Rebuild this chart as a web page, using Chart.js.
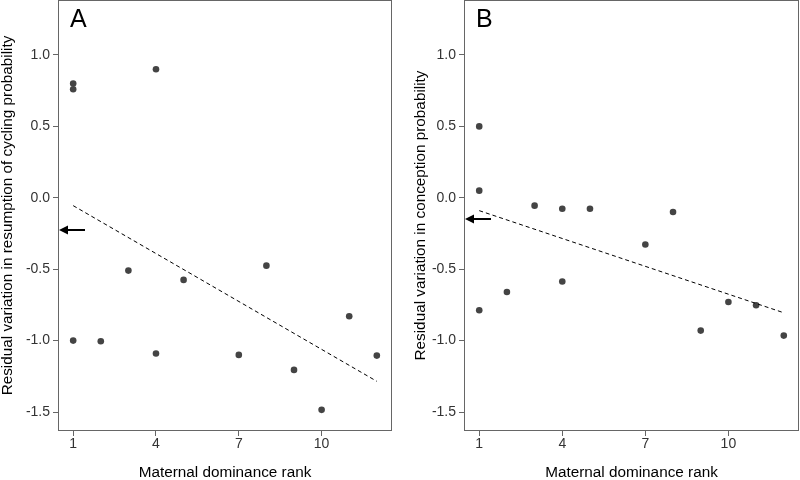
<!DOCTYPE html>
<html>
<head>
<meta charset="utf-8">
<script src="https://cdn.jsdelivr.net/npm/chart.js@4.4.1/dist/chart.umd.min.js"></script>
<style>
  body { margin: 0; background: #fff; }
  .panel { position: absolute; top: 0; }
</style>
</head>
<body>
<canvas id="chartA" class="panel" style="left:0" width="400" height="480"></canvas>
<canvas id="chartB" class="panel" style="left:400px" width="400" height="480"></canvas>
<script>
// ── Data ───────────────────────────────────────────
const rankTicks  = [1, 4, 7, 10];
const residTicks = [-1.5, -1.0, -0.5, 0.0, 0.5, 1.0];

// Panel A: resumption of cycling
const rankA  = [1, 1, 4, 3, 5, 8, 1, 2, 4, 7, 9, 10, 11, 12];
const residA = [0.80, 0.76, 0.90, -0.51, -0.575, -0.475, -1.00, -1.005, -1.09, -1.10, -1.205, -1.485, -0.83, -1.105];
const fitRankA = [1, 12];
const fitA     = [-0.055, -1.285];
const arrowA   = -0.225;

// Panel B: conception
const rankB  = [1, 1, 3, 4, 5, 8, 7, 1, 2, 4, 9, 10, 11, 12];
const residB = [0.50, 0.05, -0.055, -0.077, -0.077, -0.10, -0.327, -0.787, -0.66, -0.586, -0.93, -0.73, -0.752, -0.965];
const fitRankB = [1, 12];
const fitB     = [-0.09, -0.805];
const arrowB   = -0.146;

const FONT = '"Liberation Sans", Arial, sans-serif';
const AXIS_GREY = '#666';

// box, panel letter and the arrow on the y axis
const panelDecor = {
  id: 'panelDecor',
  afterDatasetsDraw(chart, args, opts) {
    const { ctx, chartArea: a, scales: { y } } = chart;
    ctx.save();
    ctx.strokeStyle = AXIS_GREY;
    ctx.lineWidth = 1;
    ctx.strokeRect(a.left + 0.5, a.top + 0.5, a.right - a.left - 1, a.bottom - a.top - 1);

    ctx.fillStyle = '#000';
    ctx.font = '25px ' + FONT;
    ctx.textBaseline = 'alphabetic';
    ctx.fillText(opts.letter, a.left + 12, a.top + 27);

    const ay = Math.round(y.getPixelForValue(opts.arrowValue));
    const tip = a.left + 1;
    ctx.strokeStyle = '#000';
    ctx.lineWidth = 2;
    ctx.beginPath();
    ctx.moveTo(tip + 6, ay);
    ctx.lineTo(tip + 26, ay);
    ctx.stroke();
    ctx.beginPath();
    ctx.moveTo(tip, ay);
    ctx.lineTo(tip + 9, ay - 4.5);
    ctx.lineTo(tip + 9, ay + 4.5);
    ctx.closePath();
    ctx.fill();
    ctx.restore();
  }
};

function noPad(s) {
  s.paddingTop = 0; s.paddingBottom = 0;
  s.paddingLeft = 0; s.paddingRight = 0;
}

function makePanel(id, ranks, resid, fitX, fitY, arrowValue, letter, yTitle, yWidth, padRight, titlePad) {
  const points = ranks.map((x, i) => ({ x, y: resid[i] }));
  const fit = fitX.map((x, i) => ({ x, y: fitY[i] }));

  new Chart(document.getElementById(id), {
    type: 'scatter',
    data: {
      datasets: [
        {
          type: 'line',
          data: fit,
          borderColor: '#000',
          borderWidth: 1,
          borderDash: [4, 3],
          pointRadius: 0,
          fill: false
        },
        {
          data: points,
          backgroundColor: '#444',
          borderWidth: 0,
          pointRadius: 3.3,
          pointHoverRadius: 3.3
        }
      ]
    },
    options: {
      responsive: false,
      animation: false,
      devicePixelRatio: 1,
      layout: { autoPadding: false, padding: { top: 0, right: padRight, bottom: 0, left: 0 } },
      plugins: {
        legend: { display: false },
        tooltip: { enabled: false },
        panelDecor: { letter, arrowValue }
      },
      scales: {
        x: {
          type: 'linear',
          min: 0.45,
          max: 12.55,
          afterBuildTicks: s => { s.ticks = rankTicks.map(v => ({ value: v })); },
          afterFit: s => { s.height = 49; noPad(s); },
          grid: { drawOnChartArea: false, tickLength: 5, color: AXIS_GREY },
          border: { display: false },
          ticks: { color: '#333', padding: 0, font: { size: 14, family: FONT } },
          title: {
            display: true,
            text: 'Maternal dominance rank',
            color: '#000',
            padding: { top: 0, bottom: 0 },
            font: { size: 15.3, family: FONT, lineHeight: 1 }
          }
        },
        y: {
          min: -1.633,
          max: 1.385,
          afterBuildTicks: s => { s.ticks = residTicks.map(v => ({ value: v })); },
          afterFit: s => { s.width = yWidth; noPad(s); },
          grid: { drawOnChartArea: false, tickLength: 5, color: AXIS_GREY },
          border: { display: false },
          ticks: {
            color: '#333',
            padding: 3,
            font: { size: 14, family: FONT },
            callback: v => v.toFixed(1)
          },
          title: {
            display: true,
            text: yTitle,
            color: '#000',
            padding: { top: titlePad, bottom: 0 },
            font: { size: 15.3, family: FONT, lineHeight: 1 }
          }
        }
      }
    },
    plugins: [panelDecor]
  });
}

makePanel('chartA', rankA, residA, fitRankA, fitA, arrowA, 'A',
  'Residual variation in resumption of cycling probability', 58, 8, 0);
makePanel('chartB', rankB, residB, fitRankB, fitB, arrowB, 'B',
  'Residual variation in conception probability', 64, 1, 13);
</script>
</body>
</html>
